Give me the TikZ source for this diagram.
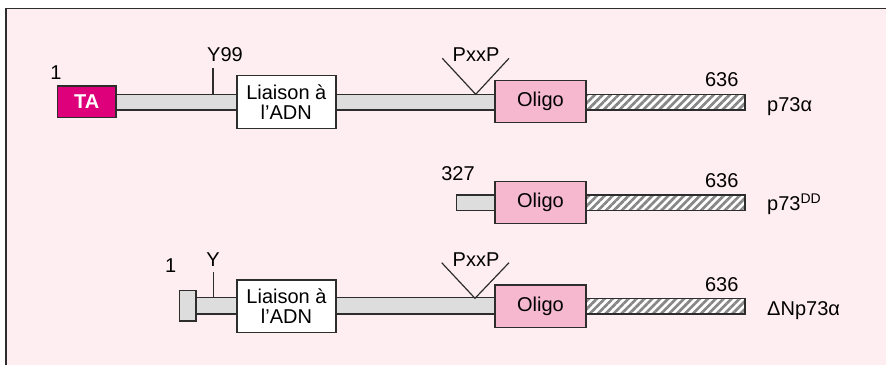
\documentclass[tikz,border=0pt]{standalone}
\usepackage{fontspec}
\setmainfont{Liberation Sans}
\usetikzlibrary{patterns.meta}
\definecolor{bgpink}{RGB}{255,238,241}
\definecolor{barGray}{RGB}{221,221,221}
\definecolor{oligoPink}{RGB}{246,184,207}
\definecolor{taMag}{RGB}{222,0,122}
\definecolor{edge}{RGB}{45,45,45}
\definecolor{hatchGray}{RGB}{135,135,135}
\tikzset{
  every node/.style={font=\fontsize{20}{20}\selectfont, text=black},
  boxstyle/.style={draw=edge, line width=1.4pt, rectangle, inner sep=0pt},
  barstyle/.style={draw=edge, line width=1.4pt, fill=barGray},
  hatchstyle/.style={draw=edge, line width=1.4pt, preaction={fill=white},
     pattern={Lines[angle=45,distance=5.6pt,line width=2.7pt]}, pattern color=hatchGray},
  oligo/.style={boxstyle, fill=oligoPink, minimum width=91pt},
  liaison/.style={boxstyle, fill=white, minimum width=99pt, minimum height=53pt, align=center},
  lbl/.style={inner sep=0pt},
  tick/.style={draw=edge, line width=1.2pt},
}
\begin{document}
\begin{tikzpicture}[x=1pt,y=-1pt]
\useasboundingbox (0,0) rectangle (886,365);
\fill[white] (0,0) rectangle (886,365);
\fill[bgpink] (6,8.5) rectangle (886,365);
\draw[edge, line width=1.2pt] (886,8.5) -- (6,8.5) -- (6,365);

% ---------- Row 1 : p73alpha ----------
\draw[barstyle] (116,94.3) rectangle (495,110);
\draw[hatchstyle] (586,94.3) rectangle (745,110);
\node[boxstyle, fill=taMag, minimum width=58.7pt, minimum height=31.3pt, text=white, font=\fontsize{20}{20}\selectfont\bfseries] (ta) at (86.7,101.7) {TA};
\node[liaison] (lia1) at (286.3,101.7) {Liaison à\\l’ADN};
\node[oligo, minimum height=41.6pt] (ol1) at (540.5,101.5) {Oligo};
\coordinate (y99b) at (213,94.3);
\coordinate (y99t) at (213,68);
\draw[tick] (y99b) -- (y99t);
\node[lbl] (y99) at (225,55) {Y99};
\node[lbl] (one1) at (56,73) {1};
\coordinate (v1a) at (475.7,94.3);
\coordinate (v1l) at (442.3,58.3);
\coordinate (v1r) at (509,58.3);
\draw[tick] (v1l) -- (v1a) -- (v1r);
\node[lbl] (pxxp1) at (476,55) {PxxP};
\node[lbl] (n636a) at (721.7,80) {636};
\node[lbl, anchor=base west] (p73a) at (767,111.7) {p73α};

% ---------- Row 2 : p73DD ----------
\draw[barstyle] (456.7,195) rectangle (495,210.7);
\draw[hatchstyle] (586,195) rectangle (745,210.7);
\node[oligo, minimum height=41.6pt] (ol2) at (540.5,202.5) {Oligo};
\node[lbl] (n327) at (458,174) {327};
\node[lbl] (n636b) at (721.7,180.7) {636};
\node[lbl, anchor=base west] (p73dd) at (767,210.5) {p73\raisebox{7pt}{\fontsize{14}{14}\selectfont DD}};

% ---------- Row 3 : DeltaNp73alpha ----------
\draw[barstyle] (196,297.7) rectangle (495,314);
\draw[hatchstyle] (586,298.3) rectangle (745,314);
\node[boxstyle, fill=barGray, minimum width=16.7pt, minimum height=30.3pt] (nterm) at (187.7,305.8) {};
\node[liaison, minimum height=52.3pt] (lia3) at (286.5,306.2) {Liaison à\\l’ADN};
\node[oligo, minimum height=42.3pt] (ol3) at (540.5,306.2) {Oligo};
\coordinate (yb) at (213.3,297.7);
\coordinate (yt) at (213.3,271.7);
\draw[tick] (yb) -- (yt);
\node[lbl] (ylab) at (213,260) {Y};
\node[lbl] (one3) at (170.7,266) {1};
\coordinate (v3a) at (475,298.3);
\coordinate (v3l) at (441.7,262.7);
\coordinate (v3r) at (509,262.7);
\draw[tick] (v3l) -- (v3a) -- (v3r);
\node[lbl] (pxxp3) at (476,259.3) {PxxP};
\node[lbl] (n636c) at (721.7,285) {636};
\node[lbl, anchor=base west] (dnp73) at (767,315) {ΔNp73α};
\end{tikzpicture}
\end{document}
